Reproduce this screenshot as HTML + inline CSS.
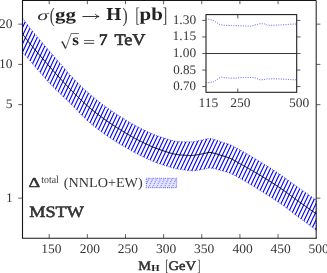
<!DOCTYPE html>
<html><head><meta charset="utf-8"><title>chart</title>
<style>html,body{margin:0;padding:0;background:#fff;overflow:hidden}svg{display:block}</style></head>
<body>
<svg width="327" height="273" viewBox="0 0 327 273">
<defs><clipPath id="bc"><path d="M22.50,17.99 L23.48,19.33 L24.46,20.67 L25.45,21.99 L26.43,23.30 L27.41,24.59 L28.39,25.87 L29.38,27.13 L30.36,28.38 L31.34,29.60 L32.32,30.82 L33.31,32.02 L34.29,33.21 L35.27,34.39 L36.25,35.56 L37.23,36.73 L38.22,37.89 L39.20,39.04 L40.18,40.19 L41.16,41.34 L42.15,42.49 L43.13,43.64 L44.11,44.79 L45.09,45.94 L46.07,47.09 L47.06,48.25 L48.04,49.40 L49.02,50.55 L50.00,51.69 L50.99,52.84 L51.97,53.98 L52.95,55.12 L53.93,56.26 L54.92,57.39 L55.90,58.52 L56.88,59.65 L57.86,60.77 L58.84,61.89 L59.83,63.00 L60.81,64.12 L61.79,65.26 L62.77,66.40 L63.76,67.56 L64.74,68.71 L65.72,69.87 L66.70,71.02 L67.68,72.16 L68.67,73.29 L69.65,74.40 L70.63,75.49 L71.61,76.56 L72.60,77.59 L73.58,78.61 L74.56,79.62 L75.54,80.62 L76.53,81.60 L77.51,82.59 L78.49,83.56 L79.47,84.53 L80.45,85.49 L81.44,86.45 L82.42,87.39 L83.40,88.33 L84.38,89.25 L85.37,90.17 L86.35,91.07 L87.33,91.96 L88.31,92.84 L89.29,93.70 L90.28,94.56 L91.26,95.40 L92.24,96.23 L93.22,97.05 L94.21,97.87 L95.19,98.67 L96.17,99.47 L97.15,100.26 L98.14,101.04 L99.12,101.81 L100.10,102.57 L101.08,103.33 L102.06,104.08 L103.05,104.82 L104.03,105.55 L105.01,106.27 L105.99,106.99 L106.98,107.70 L107.96,108.40 L108.94,109.08 L109.92,109.76 L110.90,110.43 L111.89,111.09 L112.87,111.75 L113.85,112.40 L114.83,113.04 L115.82,113.68 L116.80,114.31 L117.78,114.93 L118.76,115.55 L119.75,116.17 L120.73,116.78 L121.71,117.39 L122.69,118.00 L123.67,118.60 L124.66,119.21 L125.64,119.81 L126.62,120.41 L127.60,121.00 L128.59,121.59 L129.57,122.18 L130.55,122.76 L131.53,123.33 L132.51,123.90 L133.50,124.46 L134.48,125.01 L135.46,125.55 L136.44,126.09 L137.43,126.61 L138.41,127.13 L139.39,127.64 L140.37,128.13 L141.36,128.62 L142.34,129.11 L143.32,129.60 L144.30,130.08 L145.28,130.56 L146.27,131.03 L147.25,131.50 L148.23,131.96 L149.21,132.42 L150.20,132.86 L151.18,133.30 L152.16,133.73 L153.14,134.15 L154.12,134.56 L155.11,134.95 L156.09,135.34 L157.07,135.71 L158.05,136.07 L159.04,136.41 L160.02,136.74 L161.00,137.06 L161.98,137.39 L162.97,137.72 L163.95,138.04 L164.93,138.36 L165.91,138.68 L166.89,138.99 L167.88,139.28 L168.86,139.57 L169.84,139.84 L170.82,140.10 L171.81,140.34 L172.79,140.56 L173.77,140.77 L174.75,140.96 L175.73,141.13 L176.72,141.27 L177.70,141.40 L178.68,141.49 L179.66,141.57 L180.65,141.62 L181.63,141.67 L182.61,141.71 L183.59,141.76 L184.58,141.80 L185.56,141.83 L186.54,141.86 L187.52,141.88 L188.50,141.88 L189.49,141.88 L190.47,141.86 L191.45,141.83 L192.43,141.75 L193.42,141.63 L194.40,141.48 L195.38,141.31 L196.36,141.12 L197.34,140.92 L198.33,140.73 L199.31,140.54 L200.29,140.36 L201.27,140.17 L202.26,139.98 L203.24,139.77 L204.22,139.56 L205.20,139.33 L206.19,139.10 L207.17,138.86 L208.15,138.62 L209.13,138.37 L210.11,138.45 L211.10,138.64 L212.08,138.85 L213.06,139.09 L214.04,139.35 L215.03,139.64 L216.01,139.96 L216.99,140.31 L217.97,140.67 L218.95,141.03 L219.94,141.38 L220.92,141.72 L221.90,142.04 L222.88,142.34 L223.87,142.64 L224.85,142.94 L225.83,143.24 L226.81,143.55 L227.80,143.87 L228.78,144.22 L229.76,144.59 L230.74,144.99 L231.72,145.43 L232.71,145.90 L233.69,146.39 L234.67,146.90 L235.65,147.42 L236.64,147.96 L237.62,148.50 L238.60,149.04 L239.58,149.59 L240.56,150.13 L241.55,150.67 L242.53,151.22 L243.51,151.78 L244.49,152.34 L245.48,152.91 L246.46,153.48 L247.44,154.05 L248.42,154.63 L249.41,155.22 L250.39,155.80 L251.37,156.39 L252.35,156.98 L253.33,157.58 L254.32,158.18 L255.30,158.78 L256.28,159.38 L257.26,159.98 L258.25,160.58 L259.23,161.19 L260.21,161.79 L261.19,162.40 L262.17,163.00 L263.16,163.60 L264.14,164.20 L265.12,164.81 L266.10,165.41 L267.09,166.02 L268.07,166.64 L269.05,167.25 L270.03,167.87 L271.02,168.49 L272.00,169.12 L272.98,169.75 L273.96,170.39 L274.94,171.03 L275.93,171.67 L276.91,172.32 L277.89,172.97 L278.87,173.63 L279.86,174.29 L280.84,174.96 L281.82,175.63 L282.80,176.32 L283.78,177.01 L284.77,177.71 L285.75,178.41 L286.73,179.12 L287.71,179.83 L288.70,180.54 L289.68,181.26 L290.66,181.98 L291.64,182.70 L292.63,183.42 L293.61,184.13 L294.59,184.85 L295.57,185.56 L296.55,186.28 L297.54,186.98 L298.52,187.68 L299.50,188.38 L300.48,189.07 L301.47,189.76 L302.45,190.45 L303.43,191.14 L304.41,191.83 L305.39,192.51 L306.38,193.20 L307.36,193.88 L308.34,194.57 L309.32,195.25 L310.31,195.93 L311.29,196.61 L312.27,197.30 L313.25,197.98 L314.24,198.65 L315.22,199.33 L316.20,200.01 L316.20,230.20 L315.22,229.47 L314.24,228.74 L313.25,228.01 L312.27,227.28 L311.29,226.55 L310.31,225.82 L309.32,225.09 L308.34,224.37 L307.36,223.64 L306.38,222.91 L305.39,222.19 L304.41,221.47 L303.43,220.75 L302.45,220.02 L301.47,219.30 L300.48,218.58 L299.50,217.86 L298.52,217.13 L297.54,216.39 L296.55,215.66 L295.57,214.92 L294.59,214.17 L293.61,213.43 L292.63,212.68 L291.64,211.94 L290.66,211.19 L289.68,210.45 L288.70,209.71 L287.71,208.97 L286.73,208.24 L285.75,207.51 L284.77,206.78 L283.78,206.07 L282.80,205.36 L281.82,204.66 L280.84,203.96 L279.86,203.28 L278.87,202.60 L277.89,201.93 L276.91,201.27 L275.93,200.60 L274.94,199.95 L273.96,199.30 L272.98,198.65 L272.00,198.01 L271.02,197.37 L270.03,196.73 L269.05,196.10 L268.07,195.47 L267.09,194.85 L266.10,194.22 L265.12,193.60 L264.14,192.98 L263.16,192.37 L262.17,191.75 L261.19,191.13 L260.21,190.52 L259.23,189.91 L258.25,189.29 L257.26,188.68 L256.28,188.08 L255.30,187.47 L254.32,186.87 L253.33,186.27 L252.35,185.67 L251.37,185.08 L250.39,184.48 L249.41,183.90 L248.42,183.32 L247.44,182.74 L246.46,182.16 L245.48,181.59 L244.49,181.03 L243.51,180.47 L242.53,179.91 L241.55,179.36 L240.56,178.82 L239.58,178.28 L238.60,177.73 L237.62,177.18 L236.64,176.62 L235.65,176.08 L234.67,175.54 L233.69,175.02 L232.71,174.52 L231.72,174.04 L230.74,173.59 L229.76,173.17 L228.78,172.80 L227.80,172.45 L226.81,172.13 L225.83,171.83 L224.85,171.54 L223.87,171.27 L222.88,171.00 L221.90,170.74 L220.92,170.47 L219.94,170.21 L218.95,169.93 L217.97,169.65 L216.99,169.38 L216.01,169.11 L215.03,168.87 L214.04,168.66 L213.06,168.47 L212.08,168.29 L211.10,168.12 L210.11,167.97 L209.13,167.91 L208.15,168.16 L207.17,168.42 L206.19,168.66 L205.20,168.89 L204.22,169.11 L203.24,169.32 L202.26,169.52 L201.27,169.71 L200.29,169.89 L199.31,170.05 L198.33,170.22 L197.34,170.37 L196.36,170.51 L195.38,170.63 L194.40,170.72 L193.42,170.78 L192.43,170.79 L191.45,170.77 L190.47,170.69 L189.49,170.60 L188.50,170.49 L187.52,170.38 L186.54,170.25 L185.56,170.12 L184.58,169.98 L183.59,169.84 L182.61,169.71 L181.63,169.57 L180.65,169.45 L179.66,169.32 L178.68,169.19 L177.70,169.04 L176.72,168.86 L175.73,168.66 L174.75,168.44 L173.77,168.20 L172.79,167.95 L171.81,167.68 L170.82,167.40 L169.84,167.10 L168.86,166.80 L167.88,166.49 L166.89,166.18 L165.91,165.86 L164.93,165.53 L163.95,165.21 L162.97,164.89 L161.98,164.56 L161.00,164.24 L160.02,163.92 L159.04,163.59 L158.05,163.25 L157.07,162.90 L156.09,162.53 L155.11,162.16 L154.12,161.77 L153.14,161.37 L152.16,160.96 L151.18,160.53 L150.20,160.11 L149.21,159.67 L148.23,159.22 L147.25,158.77 L146.27,158.32 L145.28,157.85 L144.30,157.39 L143.32,156.92 L142.34,156.44 L141.36,155.97 L140.37,155.49 L139.39,155.01 L138.41,154.51 L137.43,154.01 L136.44,153.50 L135.46,152.98 L134.48,152.45 L133.50,151.91 L132.51,151.36 L131.53,150.82 L130.55,150.26 L129.57,149.70 L128.59,149.14 L127.60,148.58 L126.62,148.01 L125.64,147.44 L124.66,146.87 L123.67,146.30 L122.69,145.72 L121.71,145.14 L120.73,144.56 L119.75,143.98 L118.76,143.39 L117.78,142.79 L116.80,142.19 L115.82,141.58 L114.83,140.97 L113.85,140.34 L112.87,139.71 L111.89,139.07 L110.90,138.42 L109.92,137.77 L108.94,137.12 L107.96,136.45 L106.98,135.78 L105.99,135.10 L105.01,134.42 L104.03,133.73 L103.05,133.03 L102.06,132.33 L101.08,131.61 L100.10,130.90 L99.12,130.17 L98.14,129.44 L97.15,128.69 L96.17,127.94 L95.19,127.18 L94.21,126.41 L93.22,125.63 L92.24,124.83 L91.26,124.03 L90.28,123.21 L89.29,122.38 L88.31,121.52 L87.33,120.64 L86.35,119.73 L85.37,118.80 L84.38,117.85 L83.40,116.89 L82.42,115.90 L81.44,114.91 L80.45,113.91 L79.47,112.90 L78.49,111.89 L77.51,110.87 L76.53,109.86 L75.54,108.85 L74.56,107.84 L73.58,106.83 L72.60,105.82 L71.61,104.82 L70.63,103.84 L69.65,102.88 L68.67,101.93 L67.68,100.99 L66.70,100.06 L65.72,99.13 L64.74,98.21 L63.76,97.29 L62.77,96.36 L61.79,95.43 L60.81,94.48 L59.83,93.52 L58.84,92.56 L57.86,91.60 L56.88,90.64 L55.90,89.68 L54.92,88.72 L53.93,87.75 L52.95,86.77 L51.97,85.78 L50.99,84.77 L50.00,83.74 L49.02,82.70 L48.04,81.63 L47.06,80.53 L46.07,79.42 L45.09,78.30 L44.11,77.18 L43.13,76.06 L42.15,74.94 L41.16,73.82 L40.18,72.69 L39.20,71.57 L38.22,70.44 L37.23,69.30 L36.25,68.16 L35.27,67.02 L34.29,65.86 L33.31,64.70 L32.32,63.53 L31.34,62.35 L30.36,61.16 L29.38,59.98 L28.39,58.87 L27.41,57.80 L26.43,56.78 L25.45,55.78 L24.46,54.79 L23.48,53.81 L22.50,52.82Z"/></clipPath></defs>
<rect width="327" height="273" fill="#fff"/>
<g clip-path="url(#bc)"><path d="M-121.43,240 L-7.15,0 M-117.54,240 L-3.26,0 M-113.65,240 L0.63,0 M-109.76,240 L4.52,0 M-105.87,240 L8.41,0 M-101.98,240 L12.30,0 M-98.09,240 L16.19,0 M-94.20,240 L20.08,0 M-90.31,240 L23.97,0 M-86.42,240 L27.86,0 M-82.53,240 L31.75,0 M-78.64,240 L35.64,0 M-74.75,240 L39.53,0 M-70.86,240 L43.42,0 M-66.97,240 L47.31,0 M-63.08,240 L51.20,0 M-59.19,240 L55.09,0 M-55.30,240 L58.98,0 M-51.41,240 L62.87,0 M-47.52,240 L66.76,0 M-43.63,240 L70.65,0 M-39.74,240 L74.54,0 M-35.85,240 L78.43,0 M-31.96,240 L82.32,0 M-28.07,240 L86.21,0 M-24.18,240 L90.10,0 M-20.29,240 L93.99,0 M-16.40,240 L97.88,0 M-12.51,240 L101.77,0 M-8.62,240 L105.66,0 M-4.73,240 L109.55,0 M-0.84,240 L113.44,0 M3.05,240 L117.33,0 M6.94,240 L121.22,0 M10.83,240 L125.11,0 M14.72,240 L129.00,0 M18.61,240 L132.89,0 M22.50,240 L136.78,0 M26.39,240 L140.67,0 M30.28,240 L144.56,0 M34.17,240 L148.45,0 M38.06,240 L152.34,0 M41.95,240 L156.23,0 M45.84,240 L160.12,0 M49.73,240 L164.01,0 M53.62,240 L167.90,0 M57.51,240 L171.79,0 M61.40,240 L175.68,0 M65.29,240 L179.57,0 M69.18,240 L183.46,0 M73.07,240 L187.35,0 M76.96,240 L191.24,0 M80.85,240 L195.13,0 M84.74,240 L199.02,0 M88.63,240 L202.91,0 M92.52,240 L206.80,0 M96.41,240 L210.69,0 M100.30,240 L214.58,0 M104.19,240 L218.47,0 M108.08,240 L222.36,0 M111.97,240 L226.25,0 M115.86,240 L230.14,0 M119.75,240 L234.03,0 M123.64,240 L237.92,0 M127.53,240 L241.81,0 M131.42,240 L245.70,0 M135.31,240 L249.59,0 M139.20,240 L253.48,0 M143.09,240 L257.37,0 M146.98,240 L261.26,0 M150.87,240 L265.15,0 M154.76,240 L269.04,0 M158.65,240 L272.93,0 M162.54,240 L276.82,0 M166.43,240 L280.71,0 M170.32,240 L284.60,0 M174.21,240 L288.49,0 M178.10,240 L292.38,0 M181.99,240 L296.27,0 M185.88,240 L300.16,0 M189.77,240 L304.05,0 M193.66,240 L307.94,0 M197.55,240 L311.83,0 M201.44,240 L315.72,0 M205.33,240 L319.61,0 M209.22,240 L323.50,0 M213.11,240 L327.39,0 M217.00,240 L331.28,0 M220.89,240 L335.17,0 M224.78,240 L339.06,0 M228.67,240 L342.95,0 M232.56,240 L346.84,0 M236.45,240 L350.73,0 M240.34,240 L354.62,0 M244.23,240 L358.51,0 M248.12,240 L362.40,0 M252.01,240 L366.29,0 M255.90,240 L370.18,0 M259.79,240 L374.07,0 M263.68,240 L377.96,0 M267.57,240 L381.85,0 M271.46,240 L385.74,0 M275.35,240 L389.63,0 M279.24,240 L393.52,0 M283.13,240 L397.41,0 M287.02,240 L401.30,0 M290.91,240 L405.19,0 M294.80,240 L409.08,0 M298.69,240 L412.97,0 M302.58,240 L416.86,0 M306.47,240 L420.75,0 M310.36,240 L424.64,0 M314.25,240 L428.53,0 M318.14,240 L432.42,0 M322.03,240 L436.31,0 M325.92,240 L440.20,0 M329.81,240 L444.09,0 M333.70,240 L447.98,0" stroke="#0000ff" stroke-width="1.12" fill="none"/></g>
<path d="M22.50,17.99 L23.48,19.33 L24.46,20.67 L25.45,21.99 L26.43,23.30 L27.41,24.59 L28.39,25.87 L29.38,27.13 L30.36,28.38 L31.34,29.60 L32.32,30.82 L33.31,32.02 L34.29,33.21 L35.27,34.39 L36.25,35.56 L37.23,36.73 L38.22,37.89 L39.20,39.04 L40.18,40.19 L41.16,41.34 L42.15,42.49 L43.13,43.64 L44.11,44.79 L45.09,45.94 L46.07,47.09 L47.06,48.25 L48.04,49.40 L49.02,50.55 L50.00,51.69 L50.99,52.84 L51.97,53.98 L52.95,55.12 L53.93,56.26 L54.92,57.39 L55.90,58.52 L56.88,59.65 L57.86,60.77 L58.84,61.89 L59.83,63.00 L60.81,64.12 L61.79,65.26 L62.77,66.40 L63.76,67.56 L64.74,68.71 L65.72,69.87 L66.70,71.02 L67.68,72.16 L68.67,73.29 L69.65,74.40 L70.63,75.49 L71.61,76.56 L72.60,77.59 L73.58,78.61 L74.56,79.62 L75.54,80.62 L76.53,81.60 L77.51,82.59 L78.49,83.56 L79.47,84.53 L80.45,85.49 L81.44,86.45 L82.42,87.39 L83.40,88.33 L84.38,89.25 L85.37,90.17 L86.35,91.07 L87.33,91.96 L88.31,92.84 L89.29,93.70 L90.28,94.56 L91.26,95.40 L92.24,96.23 L93.22,97.05 L94.21,97.87 L95.19,98.67 L96.17,99.47 L97.15,100.26 L98.14,101.04 L99.12,101.81 L100.10,102.57 L101.08,103.33 L102.06,104.08 L103.05,104.82 L104.03,105.55 L105.01,106.27 L105.99,106.99 L106.98,107.70 L107.96,108.40 L108.94,109.08 L109.92,109.76 L110.90,110.43 L111.89,111.09 L112.87,111.75 L113.85,112.40 L114.83,113.04 L115.82,113.68 L116.80,114.31 L117.78,114.93 L118.76,115.55 L119.75,116.17 L120.73,116.78 L121.71,117.39 L122.69,118.00 L123.67,118.60 L124.66,119.21 L125.64,119.81 L126.62,120.41 L127.60,121.00 L128.59,121.59 L129.57,122.18 L130.55,122.76 L131.53,123.33 L132.51,123.90 L133.50,124.46 L134.48,125.01 L135.46,125.55 L136.44,126.09 L137.43,126.61 L138.41,127.13 L139.39,127.64 L140.37,128.13 L141.36,128.62 L142.34,129.11 L143.32,129.60 L144.30,130.08 L145.28,130.56 L146.27,131.03 L147.25,131.50 L148.23,131.96 L149.21,132.42 L150.20,132.86 L151.18,133.30 L152.16,133.73 L153.14,134.15 L154.12,134.56 L155.11,134.95 L156.09,135.34 L157.07,135.71 L158.05,136.07 L159.04,136.41 L160.02,136.74 L161.00,137.06 L161.98,137.39 L162.97,137.72 L163.95,138.04 L164.93,138.36 L165.91,138.68 L166.89,138.99 L167.88,139.28 L168.86,139.57 L169.84,139.84 L170.82,140.10 L171.81,140.34 L172.79,140.56 L173.77,140.77 L174.75,140.96 L175.73,141.13 L176.72,141.27 L177.70,141.40 L178.68,141.49 L179.66,141.57 L180.65,141.62 L181.63,141.67 L182.61,141.71 L183.59,141.76 L184.58,141.80 L185.56,141.83 L186.54,141.86 L187.52,141.88 L188.50,141.88 L189.49,141.88 L190.47,141.86 L191.45,141.83 L192.43,141.75 L193.42,141.63 L194.40,141.48 L195.38,141.31 L196.36,141.12 L197.34,140.92 L198.33,140.73 L199.31,140.54 L200.29,140.36 L201.27,140.17 L202.26,139.98 L203.24,139.77 L204.22,139.56 L205.20,139.33 L206.19,139.10 L207.17,138.86 L208.15,138.62 L209.13,138.37 L210.11,138.45 L211.10,138.64 L212.08,138.85 L213.06,139.09 L214.04,139.35 L215.03,139.64 L216.01,139.96 L216.99,140.31 L217.97,140.67 L218.95,141.03 L219.94,141.38 L220.92,141.72 L221.90,142.04 L222.88,142.34 L223.87,142.64 L224.85,142.94 L225.83,143.24 L226.81,143.55 L227.80,143.87 L228.78,144.22 L229.76,144.59 L230.74,144.99 L231.72,145.43 L232.71,145.90 L233.69,146.39 L234.67,146.90 L235.65,147.42 L236.64,147.96 L237.62,148.50 L238.60,149.04 L239.58,149.59 L240.56,150.13 L241.55,150.67 L242.53,151.22 L243.51,151.78 L244.49,152.34 L245.48,152.91 L246.46,153.48 L247.44,154.05 L248.42,154.63 L249.41,155.22 L250.39,155.80 L251.37,156.39 L252.35,156.98 L253.33,157.58 L254.32,158.18 L255.30,158.78 L256.28,159.38 L257.26,159.98 L258.25,160.58 L259.23,161.19 L260.21,161.79 L261.19,162.40 L262.17,163.00 L263.16,163.60 L264.14,164.20 L265.12,164.81 L266.10,165.41 L267.09,166.02 L268.07,166.64 L269.05,167.25 L270.03,167.87 L271.02,168.49 L272.00,169.12 L272.98,169.75 L273.96,170.39 L274.94,171.03 L275.93,171.67 L276.91,172.32 L277.89,172.97 L278.87,173.63 L279.86,174.29 L280.84,174.96 L281.82,175.63 L282.80,176.32 L283.78,177.01 L284.77,177.71 L285.75,178.41 L286.73,179.12 L287.71,179.83 L288.70,180.54 L289.68,181.26 L290.66,181.98 L291.64,182.70 L292.63,183.42 L293.61,184.13 L294.59,184.85 L295.57,185.56 L296.55,186.28 L297.54,186.98 L298.52,187.68 L299.50,188.38 L300.48,189.07 L301.47,189.76 L302.45,190.45 L303.43,191.14 L304.41,191.83 L305.39,192.51 L306.38,193.20 L307.36,193.88 L308.34,194.57 L309.32,195.25 L310.31,195.93 L311.29,196.61 L312.27,197.30 L313.25,197.98 L314.24,198.65 L315.22,199.33 L316.20,200.01 L316.20,230.20 L315.22,229.47 L314.24,228.74 L313.25,228.01 L312.27,227.28 L311.29,226.55 L310.31,225.82 L309.32,225.09 L308.34,224.37 L307.36,223.64 L306.38,222.91 L305.39,222.19 L304.41,221.47 L303.43,220.75 L302.45,220.02 L301.47,219.30 L300.48,218.58 L299.50,217.86 L298.52,217.13 L297.54,216.39 L296.55,215.66 L295.57,214.92 L294.59,214.17 L293.61,213.43 L292.63,212.68 L291.64,211.94 L290.66,211.19 L289.68,210.45 L288.70,209.71 L287.71,208.97 L286.73,208.24 L285.75,207.51 L284.77,206.78 L283.78,206.07 L282.80,205.36 L281.82,204.66 L280.84,203.96 L279.86,203.28 L278.87,202.60 L277.89,201.93 L276.91,201.27 L275.93,200.60 L274.94,199.95 L273.96,199.30 L272.98,198.65 L272.00,198.01 L271.02,197.37 L270.03,196.73 L269.05,196.10 L268.07,195.47 L267.09,194.85 L266.10,194.22 L265.12,193.60 L264.14,192.98 L263.16,192.37 L262.17,191.75 L261.19,191.13 L260.21,190.52 L259.23,189.91 L258.25,189.29 L257.26,188.68 L256.28,188.08 L255.30,187.47 L254.32,186.87 L253.33,186.27 L252.35,185.67 L251.37,185.08 L250.39,184.48 L249.41,183.90 L248.42,183.32 L247.44,182.74 L246.46,182.16 L245.48,181.59 L244.49,181.03 L243.51,180.47 L242.53,179.91 L241.55,179.36 L240.56,178.82 L239.58,178.28 L238.60,177.73 L237.62,177.18 L236.64,176.62 L235.65,176.08 L234.67,175.54 L233.69,175.02 L232.71,174.52 L231.72,174.04 L230.74,173.59 L229.76,173.17 L228.78,172.80 L227.80,172.45 L226.81,172.13 L225.83,171.83 L224.85,171.54 L223.87,171.27 L222.88,171.00 L221.90,170.74 L220.92,170.47 L219.94,170.21 L218.95,169.93 L217.97,169.65 L216.99,169.38 L216.01,169.11 L215.03,168.87 L214.04,168.66 L213.06,168.47 L212.08,168.29 L211.10,168.12 L210.11,167.97 L209.13,167.91 L208.15,168.16 L207.17,168.42 L206.19,168.66 L205.20,168.89 L204.22,169.11 L203.24,169.32 L202.26,169.52 L201.27,169.71 L200.29,169.89 L199.31,170.05 L198.33,170.22 L197.34,170.37 L196.36,170.51 L195.38,170.63 L194.40,170.72 L193.42,170.78 L192.43,170.79 L191.45,170.77 L190.47,170.69 L189.49,170.60 L188.50,170.49 L187.52,170.38 L186.54,170.25 L185.56,170.12 L184.58,169.98 L183.59,169.84 L182.61,169.71 L181.63,169.57 L180.65,169.45 L179.66,169.32 L178.68,169.19 L177.70,169.04 L176.72,168.86 L175.73,168.66 L174.75,168.44 L173.77,168.20 L172.79,167.95 L171.81,167.68 L170.82,167.40 L169.84,167.10 L168.86,166.80 L167.88,166.49 L166.89,166.18 L165.91,165.86 L164.93,165.53 L163.95,165.21 L162.97,164.89 L161.98,164.56 L161.00,164.24 L160.02,163.92 L159.04,163.59 L158.05,163.25 L157.07,162.90 L156.09,162.53 L155.11,162.16 L154.12,161.77 L153.14,161.37 L152.16,160.96 L151.18,160.53 L150.20,160.11 L149.21,159.67 L148.23,159.22 L147.25,158.77 L146.27,158.32 L145.28,157.85 L144.30,157.39 L143.32,156.92 L142.34,156.44 L141.36,155.97 L140.37,155.49 L139.39,155.01 L138.41,154.51 L137.43,154.01 L136.44,153.50 L135.46,152.98 L134.48,152.45 L133.50,151.91 L132.51,151.36 L131.53,150.82 L130.55,150.26 L129.57,149.70 L128.59,149.14 L127.60,148.58 L126.62,148.01 L125.64,147.44 L124.66,146.87 L123.67,146.30 L122.69,145.72 L121.71,145.14 L120.73,144.56 L119.75,143.98 L118.76,143.39 L117.78,142.79 L116.80,142.19 L115.82,141.58 L114.83,140.97 L113.85,140.34 L112.87,139.71 L111.89,139.07 L110.90,138.42 L109.92,137.77 L108.94,137.12 L107.96,136.45 L106.98,135.78 L105.99,135.10 L105.01,134.42 L104.03,133.73 L103.05,133.03 L102.06,132.33 L101.08,131.61 L100.10,130.90 L99.12,130.17 L98.14,129.44 L97.15,128.69 L96.17,127.94 L95.19,127.18 L94.21,126.41 L93.22,125.63 L92.24,124.83 L91.26,124.03 L90.28,123.21 L89.29,122.38 L88.31,121.52 L87.33,120.64 L86.35,119.73 L85.37,118.80 L84.38,117.85 L83.40,116.89 L82.42,115.90 L81.44,114.91 L80.45,113.91 L79.47,112.90 L78.49,111.89 L77.51,110.87 L76.53,109.86 L75.54,108.85 L74.56,107.84 L73.58,106.83 L72.60,105.82 L71.61,104.82 L70.63,103.84 L69.65,102.88 L68.67,101.93 L67.68,100.99 L66.70,100.06 L65.72,99.13 L64.74,98.21 L63.76,97.29 L62.77,96.36 L61.79,95.43 L60.81,94.48 L59.83,93.52 L58.84,92.56 L57.86,91.60 L56.88,90.64 L55.90,89.68 L54.92,88.72 L53.93,87.75 L52.95,86.77 L51.97,85.78 L50.99,84.77 L50.00,83.74 L49.02,82.70 L48.04,81.63 L47.06,80.53 L46.07,79.42 L45.09,78.30 L44.11,77.18 L43.13,76.06 L42.15,74.94 L41.16,73.82 L40.18,72.69 L39.20,71.57 L38.22,70.44 L37.23,69.30 L36.25,68.16 L35.27,67.02 L34.29,65.86 L33.31,64.70 L32.32,63.53 L31.34,62.35 L30.36,61.16 L29.38,59.98 L28.39,58.87 L27.41,57.80 L26.43,56.78 L25.45,55.78 L24.46,54.79 L23.48,53.81 L22.50,52.82Z" fill="none" stroke="#0000ff" stroke-width="0.9" stroke-dasharray="1.1,1.3" opacity="0.7"/>
<path d="M22.50,33.90 L23.48,35.22 L24.46,36.54 L25.45,37.84 L26.43,39.14 L27.41,40.41 L28.39,41.68 L29.38,42.92 L30.36,44.14 L31.34,45.35 L32.32,46.55 L33.31,47.73 L34.29,48.90 L35.27,50.06 L36.25,51.22 L37.23,52.36 L38.22,53.50 L39.20,54.63 L40.18,55.76 L41.16,56.89 L42.15,58.02 L43.13,59.15 L44.11,60.28 L45.09,61.41 L46.07,62.54 L47.06,63.67 L48.04,64.80 L49.02,65.93 L50.00,67.06 L50.99,68.19 L51.97,69.31 L52.95,70.43 L53.93,71.54 L54.92,72.65 L55.90,73.76 L56.88,74.85 L57.86,75.95 L58.84,77.03 L59.83,78.11 L60.81,79.18 L61.79,80.25 L62.77,81.32 L63.76,82.38 L64.74,83.44 L65.72,84.50 L66.70,85.54 L67.68,86.59 L68.67,87.62 L69.65,88.65 L70.63,89.67 L71.61,90.69 L72.60,91.69 L73.58,92.68 L74.56,93.66 L75.54,94.64 L76.53,95.61 L77.51,96.57 L78.49,97.53 L79.47,98.48 L80.45,99.43 L81.44,100.37 L82.42,101.30 L83.40,102.22 L84.38,103.13 L85.37,104.03 L86.35,104.92 L87.33,105.80 L88.31,106.66 L89.29,107.50 L90.28,108.33 L91.26,109.15 L92.24,109.96 L93.22,110.75 L94.21,111.54 L95.19,112.31 L96.17,113.08 L97.15,113.83 L98.14,114.58 L99.12,115.32 L100.10,116.05 L101.08,116.78 L102.06,117.49 L103.05,118.20 L104.03,118.91 L105.01,119.61 L105.99,120.30 L106.98,120.99 L107.96,121.67 L108.94,122.34 L109.92,123.01 L110.90,123.67 L111.89,124.32 L112.87,124.97 L113.85,125.61 L114.83,126.24 L115.82,126.87 L116.80,127.50 L117.78,128.12 L118.76,128.73 L119.75,129.34 L120.73,129.95 L121.71,130.55 L122.69,131.16 L123.67,131.76 L124.66,132.36 L125.64,132.95 L126.62,133.55 L127.60,134.14 L128.59,134.72 L129.57,135.30 L130.55,135.87 L131.53,136.44 L132.51,137.00 L133.50,137.56 L134.48,138.10 L135.46,138.64 L136.44,139.17 L137.43,139.69 L138.41,140.20 L139.39,140.70 L140.37,141.18 L141.36,141.67 L142.34,142.15 L143.32,142.63 L144.30,143.11 L145.28,143.58 L146.27,144.05 L147.25,144.51 L148.23,144.97 L149.21,145.42 L150.20,145.86 L151.18,146.30 L152.16,146.72 L153.14,147.13 L154.12,147.54 L155.11,147.93 L156.09,148.31 L157.07,148.68 L158.05,149.04 L159.04,149.38 L160.02,149.71 L161.00,150.03 L161.98,150.35 L162.97,150.68 L163.95,151.00 L164.93,151.33 L165.91,151.64 L166.89,151.96 L167.88,152.27 L168.86,152.57 L169.84,152.86 L170.82,153.13 L171.81,153.40 L172.79,153.65 L173.77,153.89 L174.75,154.10 L175.73,154.30 L176.72,154.48 L177.70,154.63 L178.68,154.76 L179.66,154.87 L180.65,154.95 L181.63,155.04 L182.61,155.11 L183.59,155.19 L184.58,155.26 L185.56,155.32 L186.54,155.38 L187.52,155.42 L188.50,155.46 L189.49,155.48 L190.47,155.50 L191.45,155.49 L192.43,155.45 L193.42,155.37 L194.40,155.25 L195.38,155.10 L196.36,154.94 L197.34,154.77 L198.33,154.59 L199.31,154.42 L200.29,154.25 L201.27,154.08 L202.26,153.90 L203.24,153.70 L204.22,153.50 L205.20,153.29 L206.19,153.06 L207.17,152.83 L208.15,152.59 L209.13,152.34 L210.11,152.42 L211.10,152.59 L212.08,152.78 L213.06,152.99 L214.04,153.21 L215.03,153.46 L216.01,153.74 L216.99,154.04 L217.97,154.35 L218.95,154.67 L219.94,154.98 L220.92,155.28 L221.90,155.57 L222.88,155.87 L223.87,156.16 L224.85,156.46 L225.83,156.77 L226.81,157.10 L227.80,157.44 L228.78,157.81 L229.76,158.21 L230.74,158.65 L231.72,159.12 L232.71,159.62 L233.69,160.15 L234.67,160.69 L235.65,161.24 L236.64,161.80 L237.62,162.36 L238.60,162.92 L239.58,163.47 L240.56,164.01 L241.55,164.55 L242.53,165.09 L243.51,165.64 L244.49,166.19 L245.48,166.74 L246.46,167.29 L247.44,167.85 L248.42,168.41 L249.41,168.97 L250.39,169.53 L251.37,170.10 L252.35,170.67 L253.33,171.24 L254.32,171.82 L255.30,172.40 L256.28,172.98 L257.26,173.56 L258.25,174.15 L259.23,174.74 L260.21,175.33 L261.19,175.92 L262.17,176.52 L263.16,177.12 L264.14,177.72 L265.12,178.32 L266.10,178.93 L267.09,179.54 L268.07,180.15 L269.05,180.77 L270.03,181.39 L271.02,182.01 L272.00,182.64 L272.98,183.27 L273.96,183.90 L274.94,184.54 L275.93,185.18 L276.91,185.83 L277.89,186.48 L278.87,187.14 L279.86,187.80 L280.84,188.47 L281.82,189.15 L282.80,189.84 L283.78,190.53 L284.77,191.23 L285.75,191.94 L286.73,192.66 L287.71,193.37 L288.70,194.10 L289.68,194.82 L290.66,195.55 L291.64,196.28 L292.63,197.00 L293.61,197.73 L294.59,198.46 L295.57,199.18 L296.55,199.90 L297.54,200.62 L298.52,201.34 L299.50,202.04 L300.48,202.75 L301.47,203.44 L302.45,204.14 L303.43,204.84 L304.41,205.54 L305.39,206.23 L306.38,206.93 L307.36,207.62 L308.34,208.31 L309.32,209.00 L310.31,209.69 L311.29,210.38 L312.27,211.06 L313.25,211.75 L314.24,212.43 L315.22,213.12 L316.20,213.80" fill="none" stroke="#000" stroke-width="1.0"/>
<path d="M22.5,238.3 V0.5 H316.2" fill="none" stroke="#161616" stroke-width="1.1"/>
<path d="M22.0,238.3 H316.7" fill="none" stroke="#161616" stroke-width="1.1"/>
<path d="M316.2,0.5 V238.3" fill="none" stroke="#161616" stroke-width="1.0"/>
<path d="M18.3,24.15 H22.5 M316.2,24.15 H320.4 M18.3,64.41 H22.5 M316.2,64.41 H320.4 M18.3,104.67 H22.5 M316.2,104.67 H320.4 M18.3,198.15 H22.5 M316.2,198.15 H320.4 M49.20,238.3 V234.10000000000002 M49.20,0.5 V4.2 M87.34,238.3 V234.10000000000002 M87.34,0.5 V4.2 M125.49,238.3 V234.10000000000002 M125.49,0.5 V4.2 M163.63,238.3 V234.10000000000002 M163.63,0.5 V4.2 M201.77,238.3 V234.10000000000002 M201.77,0.5 V4.2 M239.91,238.3 V234.10000000000002 M239.91,0.5 V4.2 M278.06,238.3 V234.10000000000002 M278.06,0.5 V4.2" stroke="#333" stroke-width="0.8" fill="none"/>
<rect x="206.0" y="14.6" width="90.69999999999999" height="77.7" fill="none" stroke="#161616" stroke-width="1.05"/>
<path d="M202.2,20.40 H206.0 M296.7,20.40 H300.5 M202.2,36.95 H206.0 M296.7,36.95 H300.5 M202.2,53.50 H206.0 M296.7,53.50 H300.5 M202.2,70.05 H206.0 M296.7,70.05 H300.5 M202.2,86.60 H206.0 M296.7,86.60 H300.5 M237.80,92.3 V88.5 M237.80,14.6 V18.4" stroke="#333" stroke-width="0.8" fill="none"/>
<path d="M206.0,53.50 H296.7" stroke="#161616" stroke-width="0.85"/>
<path d="M206.00,18.75 L206.46,18.84 L206.91,18.93 L207.37,19.03 L207.82,19.13 L208.28,19.23 L208.73,19.33 L209.19,19.44 L209.65,19.54 L210.10,19.64 L210.56,19.74 L211.01,19.84 L211.47,19.94 L211.93,20.05 L212.38,20.18 L212.84,20.32 L213.29,20.49 L213.75,20.71 L214.20,20.98 L214.66,21.28 L215.12,21.60 L215.57,21.93 L216.03,22.24 L216.48,22.54 L216.94,22.81 L217.39,23.11 L217.85,23.42 L218.31,23.72 L218.76,24.01 L219.22,24.28 L219.67,24.51 L220.13,24.69 L220.58,24.81 L221.04,24.89 L221.50,24.96 L221.95,25.02 L222.41,25.08 L222.86,25.13 L223.32,25.18 L223.78,25.22 L224.23,25.26 L224.69,25.29 L225.14,25.32 L225.60,25.34 L226.05,25.37 L226.51,25.39 L226.97,25.41 L227.42,25.42 L227.88,25.44 L228.33,25.46 L228.79,25.47 L229.24,25.49 L229.70,25.50 L230.16,25.51 L230.61,25.52 L231.07,25.53 L231.52,25.54 L231.98,25.55 L232.44,25.56 L232.89,25.57 L233.35,25.58 L233.80,25.59 L234.26,25.60 L234.71,25.61 L235.17,25.62 L235.63,25.64 L236.08,25.65 L236.54,25.66 L236.99,25.67 L237.45,25.68 L237.90,25.70 L238.36,25.71 L238.82,25.73 L239.27,25.75 L239.73,25.77 L240.18,25.79 L240.64,25.81 L241.09,25.83 L241.55,25.85 L242.01,25.88 L242.46,25.90 L242.92,25.92 L243.37,25.94 L243.83,25.97 L244.29,25.99 L244.74,26.01 L245.20,26.03 L245.65,26.04 L246.11,26.06 L246.56,26.08 L247.02,26.09 L247.48,26.11 L247.93,26.12 L248.39,26.12 L248.84,26.13 L249.30,26.14 L249.75,26.14 L250.21,26.13 L250.67,26.09 L251.12,26.03 L251.58,25.96 L252.03,25.86 L252.49,25.76 L252.95,25.64 L253.40,25.51 L253.86,25.37 L254.31,25.24 L254.77,25.10 L255.22,24.97 L255.68,24.84 L256.14,24.72 L256.59,24.61 L257.05,24.50 L257.50,24.37 L257.96,24.24 L258.41,24.11 L258.87,23.98 L259.33,23.87 L259.78,23.78 L260.24,23.73 L260.69,23.71 L261.15,23.71 L261.61,23.73 L262.06,23.75 L262.52,23.77 L262.97,23.80 L263.43,23.84 L263.88,23.88 L264.34,23.92 L264.80,24.00 L265.25,24.16 L265.71,24.37 L266.16,24.62 L266.62,24.86 L267.07,25.08 L267.53,25.26 L267.99,25.35 L268.44,25.36 L268.90,25.36 L269.35,25.36 L269.81,25.35 L270.26,25.34 L270.72,25.34 L271.18,25.32 L271.63,25.31 L272.09,25.30 L272.54,25.28 L273.00,25.27 L273.46,25.25 L273.91,25.23 L274.37,25.21 L274.82,25.19 L275.28,25.17 L275.73,25.15 L276.19,25.13 L276.65,25.11 L277.10,25.09 L277.56,25.06 L278.01,25.04 L278.47,25.02 L278.92,25.00 L279.38,24.97 L279.84,24.95 L280.29,24.93 L280.75,24.91 L281.20,24.89 L281.66,24.86 L282.12,24.84 L282.57,24.81 L283.03,24.79 L283.48,24.76 L283.94,24.73 L284.39,24.70 L284.85,24.67 L285.31,24.64 L285.76,24.61 L286.22,24.58 L286.67,24.54 L287.13,24.51 L287.58,24.48 L288.04,24.45 L288.50,24.42 L288.95,24.38 L289.41,24.35 L289.86,24.32 L290.32,24.29 L290.77,24.26 L291.23,24.23 L291.69,24.20 L292.14,24.17 L292.60,24.14 L293.05,24.11 L293.51,24.09 L293.97,24.06 L294.42,24.04 L294.88,24.01 L295.33,23.99 L295.79,23.97 L296.24,23.95 L296.70,23.93" fill="none" stroke="#2a2aff" stroke-width="1.0" stroke-dasharray="1.0,1.4" opacity="0.8"/>
<path d="M206.00,82.85 L206.46,82.80 L206.91,82.75 L207.37,82.69 L207.82,82.64 L208.28,82.58 L208.73,82.52 L209.19,82.46 L209.65,82.39 L210.10,82.33 L210.56,82.27 L211.01,82.21 L211.47,82.15 L211.93,82.08 L212.38,82.00 L212.84,81.91 L213.29,81.81 L213.75,81.68 L214.20,81.49 L214.66,81.25 L215.12,80.96 L215.57,80.64 L216.03,80.31 L216.48,79.98 L216.94,79.66 L217.39,79.38 L217.85,79.07 L218.31,78.73 L218.76,78.38 L219.22,78.04 L219.67,77.72 L220.13,77.45 L220.58,77.25 L221.04,77.13 L221.50,77.11 L221.95,77.14 L222.41,77.19 L222.86,77.25 L223.32,77.33 L223.78,77.42 L224.23,77.50 L224.69,77.59 L225.14,77.67 L225.60,77.73 L226.05,77.78 L226.51,77.81 L226.97,77.85 L227.42,77.88 L227.88,77.92 L228.33,77.95 L228.79,77.99 L229.24,78.02 L229.70,78.05 L230.16,78.08 L230.61,78.10 L231.07,78.13 L231.52,78.15 L231.98,78.17 L232.44,78.18 L232.89,78.20 L233.35,78.21 L233.80,78.21 L234.26,78.21 L234.71,78.21 L235.17,78.18 L235.63,78.15 L236.08,78.11 L236.54,78.05 L236.99,78.00 L237.45,77.94 L237.90,77.88 L238.36,77.82 L238.82,77.77 L239.27,77.72 L239.73,77.69 L240.18,77.66 L240.64,77.64 L241.09,77.63 L241.55,77.61 L242.01,77.60 L242.46,77.58 L242.92,77.56 L243.37,77.55 L243.83,77.54 L244.29,77.52 L244.74,77.51 L245.20,77.50 L245.65,77.49 L246.11,77.48 L246.56,77.47 L247.02,77.46 L247.48,77.46 L247.93,77.45 L248.39,77.45 L248.84,77.45 L249.30,77.44 L249.75,77.44 L250.21,77.45 L250.67,77.46 L251.12,77.48 L251.58,77.51 L252.03,77.54 L252.49,77.58 L252.95,77.63 L253.40,77.67 L253.86,77.72 L254.31,77.78 L254.77,77.85 L255.22,77.97 L255.68,78.11 L256.14,78.28 L256.59,78.47 L257.05,78.67 L257.50,78.87 L257.96,79.07 L258.41,79.25 L258.87,79.42 L259.33,79.56 L259.78,79.67 L260.24,79.74 L260.69,79.76 L261.15,79.75 L261.61,79.74 L262.06,79.71 L262.52,79.68 L262.97,79.64 L263.43,79.59 L263.88,79.54 L264.34,79.49 L264.80,79.44 L265.25,79.37 L265.71,79.28 L266.16,79.16 L266.62,79.03 L267.07,78.91 L267.53,78.82 L267.99,78.77 L268.44,78.77 L268.90,78.77 L269.35,78.77 L269.81,78.77 L270.26,78.78 L270.72,78.78 L271.18,78.78 L271.63,78.79 L272.09,78.80 L272.54,78.80 L273.00,78.81 L273.46,78.82 L273.91,78.83 L274.37,78.84 L274.82,78.85 L275.28,78.86 L275.73,78.87 L276.19,78.88 L276.65,78.89 L277.10,78.90 L277.56,78.91 L278.01,78.92 L278.47,78.93 L278.92,78.95 L279.38,78.96 L279.84,78.97 L280.29,78.98 L280.75,79.00 L281.20,79.01 L281.66,79.03 L282.12,79.05 L282.57,79.08 L283.03,79.10 L283.48,79.13 L283.94,79.16 L284.39,79.19 L284.85,79.23 L285.31,79.26 L285.76,79.29 L286.22,79.33 L286.67,79.36 L287.13,79.40 L287.58,79.43 L288.04,79.47 L288.50,79.50 L288.95,79.54 L289.41,79.57 L289.86,79.60 L290.32,79.62 L290.77,79.65 L291.23,79.68 L291.69,79.70 L292.14,79.72 L292.60,79.73 L293.05,79.74 L293.51,79.75 L293.97,79.76 L294.42,79.76 L294.88,79.76 L295.33,79.76 L295.79,79.76 L296.24,79.76 L296.70,79.76" fill="none" stroke="#2a2aff" stroke-width="1.0" stroke-dasharray="1.0,1.4" opacity="0.8"/>
<g font-family="'Liberation Serif', serif" fill="#363636" opacity="0.999" text-rendering="geometricPrecision">
<text transform="matrix(1.3500 0 0 1.3158 -1.094 27.900)" font-size="10" font-weight="normal" font-style="normal">20</text>
<text transform="matrix(1.3500 0 0 1.3158 -1.094 68.160)" font-size="10" font-weight="normal" font-style="normal">10</text>
<text transform="matrix(1.3500 0 0 1.3158 5.690 108.420)" font-size="10" font-weight="normal" font-style="normal">5</text>
<text transform="matrix(1.3500 0 0 1.3158 5.960 201.900)" font-size="10" font-weight="normal" font-style="normal">1</text>
<text transform="matrix(1.3500 0 0 1.3158 41.238 252.900)" font-size="10" font-weight="normal" font-style="normal">150</text>
<text transform="matrix(1.3500 0 0 1.3158 79.684 252.900)" font-size="10" font-weight="normal" font-style="normal">200</text>
<text transform="matrix(1.3500 0 0 1.3158 117.827 252.900)" font-size="10" font-weight="normal" font-style="normal">250</text>
<text transform="matrix(1.3500 0 0 1.3158 155.936 252.900)" font-size="10" font-weight="normal" font-style="normal">300</text>
<text transform="matrix(1.3500 0 0 1.3158 194.079 252.900)" font-size="10" font-weight="normal" font-style="normal">350</text>
<text transform="matrix(1.3500 0 0 1.3158 232.407 252.900)" font-size="10" font-weight="normal" font-style="normal">400</text>
<text transform="matrix(1.3500 0 0 1.3158 270.550 252.900)" font-size="10" font-weight="normal" font-style="normal">450</text>
<text transform="matrix(1.3500 0 0 1.3158 308.440 252.900)" font-size="10" font-weight="normal" font-style="normal">500</text>
<text transform="matrix(1.3415 0 0 1.3158 172.626 23.850)" font-size="10" font-weight="normal" font-style="normal">1.30</text>
<text transform="matrix(1.3436 0 0 1.3158 172.624 40.400)" font-size="10" font-weight="normal" font-style="normal">1.15</text>
<text transform="matrix(1.3415 0 0 1.3158 172.626 56.950)" font-size="10" font-weight="normal" font-style="normal">1.00</text>
<text transform="matrix(1.3034 0 0 1.3158 173.311 73.500)" font-size="10" font-weight="normal" font-style="normal">0.85</text>
<text transform="matrix(1.3015 0 0 1.3158 173.312 90.050)" font-size="10" font-weight="normal" font-style="normal">0.70</text>
<text transform="matrix(1.3500 0 0 1.3158 198.407 107.300)" font-size="10" font-weight="normal" font-style="normal">115</text>
<text transform="matrix(1.3500 0 0 1.3158 230.245 107.300)" font-size="10" font-weight="normal" font-style="normal">250</text>
<text transform="matrix(1.3500 0 0 1.3158 289.040 107.300)" font-size="10" font-weight="normal" font-style="normal">500</text>
<text transform="matrix(2.2424 0 0 1.4300 37.327 20.200)" font-size="10" font-weight="normal" font-style="italic">σ</text>
<text transform="matrix(1.4757 0 0 2.0432 49.773 21.600)" font-size="10" font-weight="normal" font-style="normal">(</text>
<text transform="matrix(2.0933 0 0 1.6522 55.077 20.200)" font-size="10" font-weight="bold" font-style="normal" fill="#222">gg</text>
<text transform="matrix(1.9329 0 0 1.8168 106.162 20.200)" font-size="10" font-weight="bold" font-style="normal" fill="#222">H</text>
<text transform="matrix(1.5534 0 0 2.0432 122.395 21.600)" font-size="10" font-weight="normal" font-style="normal">)</text>
<text transform="matrix(1.2135 0 0 2.1007 135.390 21.800)" font-size="10" font-weight="normal" font-style="normal">[</text>
<text transform="matrix(2.0898 0 0 1.8129 139.539 20.200)" font-size="10" font-weight="bold" font-style="normal" fill="#222">pb</text>
<text transform="matrix(1.3333 0 0 2.1007 162.633 21.800)" font-size="10" font-weight="normal" font-style="normal">]</text>
<text transform="matrix(1.7015 0 0 1.5957 72.190 45.200)" font-size="10" font-weight="bold" font-style="normal" fill="#222">s</text>
<text transform="matrix(1.6933 0 0 1.6183 99.099 45.200)" font-size="10" font-weight="normal" font-style="normal" stroke="#2a2a2a" stroke-width="0.453" stroke-linejoin="round">7</text>
<text transform="matrix(1.8241 0 0 1.6183 114.381 45.200)" font-size="10" font-weight="normal" font-style="normal" stroke="#2a2a2a" stroke-width="0.361" stroke-linejoin="round">TeV</text>
<text transform="matrix(1.7974 0 0 1.3788 28.526 186.800)" font-size="10" font-weight="normal" font-style="normal" stroke="#2a2a2a" stroke-width="0.381" stroke-linejoin="round">Δ</text>
<text transform="matrix(0.9900 0 0 1.0796 41.201 182.600)" font-size="10" font-weight="normal" font-style="normal">total</text>
<text transform="matrix(1.4185 0 0 1.3740 63.797 186.800)" font-size="10" font-weight="normal" font-style="normal">(NNLO+EW)</text>
<text transform="matrix(1.8215 0 0 1.6031 29.199 216.900)" font-size="10" font-weight="normal" font-style="normal" stroke="#2a2a2a" stroke-width="0.322" stroke-linejoin="round">MSTW</text>
<text transform="matrix(1.4294 0 0 1.3130 138.307 269.700)" font-size="10" font-weight="normal" font-style="normal" stroke="#2a2a2a" stroke-width="0.365" stroke-linejoin="round">M</text>
<text transform="matrix(1.0738 0 0 0.9008 151.312 271.300)" font-size="10" font-weight="bold" font-style="normal" fill="#222">H</text>
<text transform="matrix(0.9888 0 0 1.6259 165.358 271.000)" font-size="10" font-weight="normal" font-style="normal">[</text>
<text transform="matrix(1.4659 0 0 1.3132 168.514 269.700)" font-size="10" font-weight="normal" font-style="normal" stroke="#2a2a2a" stroke-width="0.360" stroke-linejoin="round">GeV</text>
<text transform="matrix(0.9333 0 0 1.6259 197.173 271.000)" font-size="10" font-weight="normal" font-style="normal">]</text>
</g>
<path d="M82.4,16.5 H98.6" stroke="#222" stroke-width="0.9" fill="none"/>
<path d="M95.2,13.9 C96.0,15.3 97.4,16.2 99.1,16.5 C97.4,16.8 96.0,17.7 95.2,19.1" stroke="#222" stroke-width="0.9" fill="none"/>
<path d="M83.9,40.5 H94.2 M83.9,43.4 H94.2" stroke="#666" stroke-width="1.1" fill="none"/>
<path d="M60.8,42.6 L62.3,41.6" stroke="#333" stroke-width="0.7" fill="none"/>
<path d="M62.2,41.5 L65.6,48.4" stroke="#2a2a2a" stroke-width="1.3" fill="none"/>
<path d="M65.6,48.6 L71.2,33.5 H78.9" stroke="#333" stroke-width="0.7" fill="none"/>
<defs><clipPath id="lc"><rect x="146.3" y="178.2" width="30.299999999999983" height="9.400000000000006"/></clipPath></defs>
<g clip-path="url(#lc)"><path d="M-121.43,240 L-7.15,0 M-117.54,240 L-3.26,0 M-113.65,240 L0.63,0 M-109.76,240 L4.52,0 M-105.87,240 L8.41,0 M-101.98,240 L12.30,0 M-98.09,240 L16.19,0 M-94.20,240 L20.08,0 M-90.31,240 L23.97,0 M-86.42,240 L27.86,0 M-82.53,240 L31.75,0 M-78.64,240 L35.64,0 M-74.75,240 L39.53,0 M-70.86,240 L43.42,0 M-66.97,240 L47.31,0 M-63.08,240 L51.20,0 M-59.19,240 L55.09,0 M-55.30,240 L58.98,0 M-51.41,240 L62.87,0 M-47.52,240 L66.76,0 M-43.63,240 L70.65,0 M-39.74,240 L74.54,0 M-35.85,240 L78.43,0 M-31.96,240 L82.32,0 M-28.07,240 L86.21,0 M-24.18,240 L90.10,0 M-20.29,240 L93.99,0 M-16.40,240 L97.88,0 M-12.51,240 L101.77,0 M-8.62,240 L105.66,0 M-4.73,240 L109.55,0 M-0.84,240 L113.44,0 M3.05,240 L117.33,0 M6.94,240 L121.22,0 M10.83,240 L125.11,0 M14.72,240 L129.00,0 M18.61,240 L132.89,0 M22.50,240 L136.78,0 M26.39,240 L140.67,0 M30.28,240 L144.56,0 M34.17,240 L148.45,0 M38.06,240 L152.34,0 M41.95,240 L156.23,0 M45.84,240 L160.12,0 M49.73,240 L164.01,0 M53.62,240 L167.90,0 M57.51,240 L171.79,0 M61.40,240 L175.68,0 M65.29,240 L179.57,0 M69.18,240 L183.46,0 M73.07,240 L187.35,0 M76.96,240 L191.24,0 M80.85,240 L195.13,0 M84.74,240 L199.02,0 M88.63,240 L202.91,0 M92.52,240 L206.80,0 M96.41,240 L210.69,0 M100.30,240 L214.58,0 M104.19,240 L218.47,0 M108.08,240 L222.36,0 M111.97,240 L226.25,0 M115.86,240 L230.14,0 M119.75,240 L234.03,0 M123.64,240 L237.92,0 M127.53,240 L241.81,0 M131.42,240 L245.70,0 M135.31,240 L249.59,0 M139.20,240 L253.48,0 M143.09,240 L257.37,0 M146.98,240 L261.26,0 M150.87,240 L265.15,0 M154.76,240 L269.04,0 M158.65,240 L272.93,0 M162.54,240 L276.82,0 M166.43,240 L280.71,0 M170.32,240 L284.60,0 M174.21,240 L288.49,0 M178.10,240 L292.38,0 M181.99,240 L296.27,0 M185.88,240 L300.16,0 M189.77,240 L304.05,0 M193.66,240 L307.94,0 M197.55,240 L311.83,0 M201.44,240 L315.72,0 M205.33,240 L319.61,0 M209.22,240 L323.50,0 M213.11,240 L327.39,0 M217.00,240 L331.28,0 M220.89,240 L335.17,0 M224.78,240 L339.06,0 M228.67,240 L342.95,0 M232.56,240 L346.84,0 M236.45,240 L350.73,0 M240.34,240 L354.62,0 M244.23,240 L358.51,0 M248.12,240 L362.40,0 M252.01,240 L366.29,0 M255.90,240 L370.18,0 M259.79,240 L374.07,0 M263.68,240 L377.96,0 M267.57,240 L381.85,0 M271.46,240 L385.74,0 M275.35,240 L389.63,0 M279.24,240 L393.52,0 M283.13,240 L397.41,0 M287.02,240 L401.30,0 M290.91,240 L405.19,0 M294.80,240 L409.08,0 M298.69,240 L412.97,0 M302.58,240 L416.86,0 M306.47,240 L420.75,0 M310.36,240 L424.64,0 M314.25,240 L428.53,0 M318.14,240 L432.42,0 M322.03,240 L436.31,0 M325.92,240 L440.20,0 M329.81,240 L444.09,0 M333.70,240 L447.98,0" stroke="#0000ff" stroke-width="1.3" stroke-dasharray="1.0,1.0" fill="none" opacity="0.45"/></g>
<rect x="146.3" y="178.2" width="30.299999999999983" height="9.400000000000006" fill="#0000ff" fill-opacity="0.10" stroke="#0000ff" stroke-width="1.1" stroke-dasharray="1.0,1.1" stroke-opacity="0.5"/>
</svg>
</body></html>
